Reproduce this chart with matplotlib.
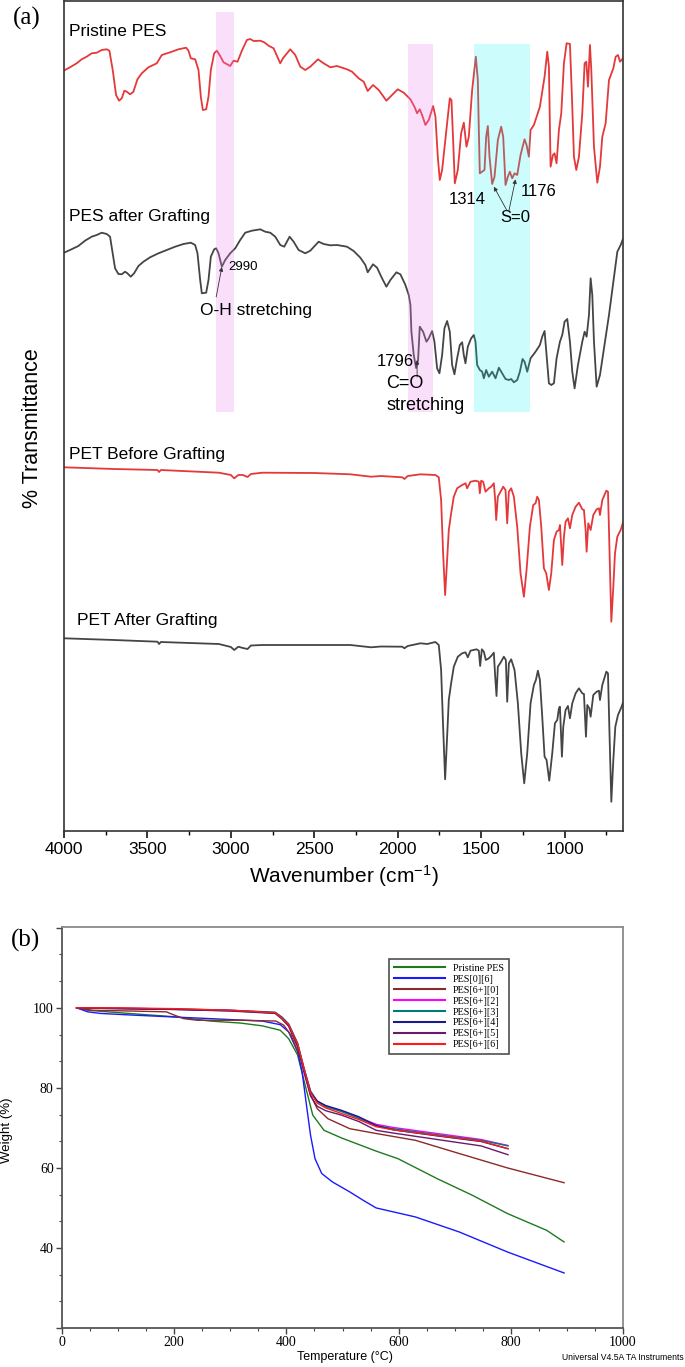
"""FTIR spectra (a) and TGA curves (b) for PES / PET grafting."""
import matplotlib
matplotlib.use("Agg")
import matplotlib.pyplot as plt
from matplotlib.ticker import MultipleLocator, AutoMinorLocator

plt.rcParams["font.family"] = ["Liberation Sans", "DejaVu Sans"]
plt.rcParams["mathtext.fontset"] = "custom"
plt.rcParams["mathtext.rm"] = "Liberation Sans"
plt.rcParams["mathtext.it"] = "Liberation Sans:italic"

W_PX, H_PX = 685, 1367

# ---------------- (a) FTIR: wavenumber (cm-1) vs trace offset (downward positive)
PES_PRISTINE_WN = [3994, 3964, 3924, 3894, 3864, 3834, 3804, 3774, 3744, 3728, 3708, 3688, 3670, 3654,
                   3638, 3624, 3604, 3584, 3560, 3534, 3494, 3444, 3414, 3364, 3314, 3268, 3254, 3240,
                   3214, 3194, 3180, 3168, 3148, 3134, 3120, 3100, 3084, 3064, 3044, 3004, 2984, 2960,
                   2934, 2904, 2884, 2864, 2824, 2800, 2774, 2744, 2704, 2688, 2644, 2614, 2584, 2554,
                   2524, 2478, 2444, 2404, 2364, 2304, 2274, 2234, 2204, 2180, 2148, 2114, 2068, 2034,
                   2000, 1964, 1924, 1900, 1884, 1868, 1854, 1834, 1814, 1788, 1774, 1760, 1748, 1734,
                   1708, 1688, 1678, 1668, 1658, 1640, 1620, 1604, 1588, 1574, 1554, 1532, 1520, 1514,
                   1508, 1494, 1480, 1470, 1460, 1450, 1434, 1420, 1400, 1380, 1368, 1354, 1340, 1328,
                   1314, 1300, 1284, 1264, 1240, 1228, 1214, 1204, 1184, 1148, 1120, 1104, 1094, 1084,
                   1070, 1060, 1048, 1034, 1020, 1004, 988, 968, 956, 944, 930, 914, 894, 880,
                   870, 860, 848, 840, 824, 804, 788, 774, 754, 734, 708, 694, 680, 668, 650]
PES_PRISTINE_T = [70.0, 67.3, 63.3, 59.3, 56.7, 53.3, 52.7, 50.0, 49.3, 50.7, 70.0, 95.0, 100.7, 98.3,
                  90.7, 91.7, 94.3, 91.7, 79.3, 73.3, 67.3, 63.3, 55.0, 52.3, 49.3, 47.7, 50.7, 58.3,
                  59.3, 70.0, 96.7, 110.0, 109.3, 96.7, 70.0, 53.3, 50.7, 56.0, 62.3, 66.0, 60.7, 61.7,
                  50.7, 40.0, 39.0, 41.0, 40.7, 42.3, 45.7, 48.3, 63.3, 58.3, 49.3, 55.0, 66.7, 70.0,
                  66.7, 59.3, 63.3, 67.3, 66.0, 69.3, 71.7, 78.3, 81.7, 91.0, 85.0, 90.0, 100.7, 95.0,
                  89.3, 92.7, 99.3, 106.7, 113.3, 109.3, 115.0, 125.0, 120.0, 106.0, 116.7, 156.7, 180.0, 170.0,
                  130.0, 98.3, 100.0, 140.0, 183.3, 170.0, 133.3, 122.7, 146.7, 136.7, 90.0, 56.7, 80.0, 130.0,
                  173.3, 171.7, 170.0, 136.7, 126.0, 156.7, 184.0, 176.7, 140.0, 126.7, 136.7, 185.0, 176.7, 171.7,
                  178.3, 173.3, 175.0, 155.0, 139.3, 145.0, 156.7, 130.0, 125.0, 106.7, 76.7, 51.7, 66.7, 166.7,
                  155.0, 153.3, 163.3, 130.0, 113.3, 63.3, 43.3, 44.0, 96.7, 156.7, 170.0, 156.7, 113.3, 63.3,
                  61.7, 86.7, 45.0, 70.0, 146.7, 182.7, 166.7, 136.7, 123.3, 80.0, 68.3, 56.7, 55.0, 61.7, 58.3]

PES_GRAFT_WN = [4000, 3964, 3914, 3874, 3834, 3804, 3774, 3744, 3724, 3708, 3694, 3674, 3654, 3634,
                3620, 3600, 3580, 3554, 3524, 3484, 3434, 3384, 3334, 3284, 3240, 3214, 3200, 3184,
                3174, 3148, 3134, 3120, 3100, 3088, 3074, 3054, 3034, 3004, 2974, 2944, 2914, 2874,
                2824, 2794, 2764, 2734, 2704, 2680, 2648, 2624, 2594, 2554, 2524, 2474, 2444, 2404,
                2364, 2304, 2264, 2224, 2194, 2180, 2148, 2124, 2094, 2068, 2044, 2008, 1984, 1954,
                1934, 1924, 1918, 1904, 1890, 1878, 1868, 1848, 1828, 1814, 1794, 1780, 1764, 1750,
                1734, 1720, 1704, 1688, 1674, 1660, 1644, 1628, 1614, 1604, 1594, 1580, 1560, 1544,
                1534, 1524, 1508, 1494, 1484, 1470, 1454, 1434, 1414, 1394, 1374, 1354, 1334, 1320,
                1304, 1284, 1268, 1252, 1240, 1224, 1204, 1174, 1148, 1134, 1120, 1108, 1094, 1080,
                1064, 1048, 1028, 1014, 1000, 984, 968, 954, 940, 920, 894, 880, 868, 854,
                844, 834, 824, 808, 788, 764, 734, 708, 684, 664, 650]
PES_GRAFT_T = [252.7, 250.0, 246.0, 240.7, 236.7, 235.0, 232.7, 234.0, 236.7, 253.3, 268.3, 274.0, 274.3, 271.7,
               273.3, 276.7, 273.3, 266.0, 261.7, 257.3, 253.3, 250.0, 246.7, 244.0, 242.7, 245.0, 253.3, 280.0,
               293.3, 292.7, 280.0, 256.7, 249.3, 248.3, 253.3, 266.7, 260.0, 253.3, 248.3, 240.0, 232.7, 230.7,
               229.3, 231.7, 232.7, 236.7, 245.0, 246.7, 236.7, 241.7, 250.0, 253.3, 250.7, 241.7, 244.0, 245.3,
               245.0, 246.7, 251.0, 257.7, 265.0, 272.3, 264.3, 267.7, 278.3, 286.7, 280.0, 272.3, 274.3, 285.0,
               295.0, 305.0, 331.7, 355.0, 368.0, 360.0, 326.7, 331.7, 341.7, 338.3, 331.0, 341.7, 368.3, 373.3,
               355.0, 328.3, 321.0, 331.7, 365.0, 374.3, 358.3, 345.0, 342.3, 355.0, 363.3, 346.7, 338.3, 335.0,
               341.7, 365.0, 370.0, 371.7, 378.3, 370.0, 376.7, 371.7, 378.3, 367.7, 373.3, 379.0, 380.0, 379.0,
               382.3, 380.0, 371.7, 359.0, 361.7, 371.7, 358.3, 351.7, 345.0, 336.7, 331.0, 355.0, 383.3, 385.0,
               383.3, 358.3, 341.7, 335.0, 321.7, 319.0, 341.7, 371.7, 388.3, 365.0, 341.7, 331.7, 336.7, 315.0,
               278.3, 295.0, 341.7, 386.7, 375.0, 348.3, 315.0, 281.7, 251.7, 245.0, 239.0]

PET_BEFORE_WN = [4000, 3700, 3440, 3430, 3420, 3072, 3000, 2980, 2955, 2928, 2900, 2880, 2810, 2500,
                 2284, 2160, 2100, 1972, 1960, 1940, 1864, 1774, 1754, 1740, 1728, 1716, 1704, 1694,
                 1680, 1664, 1644, 1614, 1594, 1584, 1564, 1534, 1514, 1508, 1500, 1488, 1474, 1454,
                 1440, 1424, 1416, 1410, 1400, 1384, 1368, 1354, 1344, 1334, 1320, 1304, 1284, 1264,
                 1244, 1228, 1208, 1188, 1174, 1164, 1154, 1140, 1124, 1110, 1094, 1080, 1064, 1048,
                 1034, 1028, 1020, 1014, 1004, 994, 980, 968, 954, 934, 914, 894, 884, 874,
                 868, 858, 844, 828, 808, 794, 788, 774, 750, 740, 732, 720, 708, 698, 684, 664, 650]
PET_BEFORE_T = [467.3, 469.0, 470.0, 472.0, 470.0, 472.7, 475.0, 478.3, 475.0, 475.0, 477.0, 474.0, 472.7, 473.0,
                474.3, 476.7, 476.0, 477.3, 479.0, 476.0, 474.3, 475.0, 477.3, 500.0, 553.3, 595.0, 560.0, 530.0,
                513.3, 496.7, 488.3, 485.0, 483.3, 488.3, 481.7, 480.7, 481.7, 493.3, 480.7, 481.7, 491.7, 488.3,
                486.7, 483.3, 500.0, 520.0, 496.7, 491.7, 486.7, 490.0, 523.3, 491.7, 488.3, 496.7, 526.7, 573.3,
                596.7, 570.0, 526.7, 505.0, 503.3, 496.7, 500.0, 526.7, 568.3, 573.3, 590.0, 573.3, 540.0, 531.7,
                530.0, 525.0, 546.7, 565.0, 536.7, 521.7, 518.3, 528.3, 515.0, 506.7, 502.7, 509.3, 510.0, 530.0,
                551.7, 523.3, 530.0, 515.0, 509.3, 508.3, 515.0, 500.0, 490.7, 491.7, 543.3, 621.7, 586.7, 553.3,
                536.7, 530.0, 522.7]

PET_AFTER_WN = [4000, 3700, 3440, 3430, 3420, 3072, 3000, 2980, 2955, 2928, 2900, 2880, 2810, 2500,
                2284, 2160, 2100, 1972, 1960, 1940, 1864, 1824, 1774, 1754, 1740, 1728, 1716, 1704,
                1694, 1680, 1664, 1640, 1614, 1594, 1580, 1564, 1528, 1514, 1506, 1496, 1484, 1472,
                1454, 1440, 1424, 1416, 1408, 1400, 1384, 1364, 1352, 1344, 1334, 1320, 1300, 1280,
                1260, 1242, 1224, 1204, 1184, 1172, 1160, 1148, 1134, 1120, 1108, 1092, 1074, 1058,
                1044, 1034, 1028, 1016, 1008, 994, 980, 968, 954, 934, 914, 894, 884, 872,
                864, 852, 844, 828, 808, 794, 788, 774, 750, 740, 732, 720, 708, 696, 680, 660, 650]
PET_AFTER_T = [638.3, 640.0, 641.7, 644.0, 642.0, 644.0, 647.0, 650.0, 646.7, 648.0, 649.0, 645.5, 645.0, 645.0,
               645.0, 647.3, 646.5, 646.7, 648.3, 646.0, 643.3, 644.0, 642.0, 645.0, 670.0, 726.7, 779.3, 736.7,
               700.0, 683.3, 666.7, 656.7, 653.3, 652.3, 657.3, 650.7, 649.3, 650.7, 666.0, 649.3, 651.7, 660.0,
               658.3, 656.0, 652.7, 676.7, 696.0, 666.7, 662.7, 656.7, 660.0, 701.7, 663.3, 659.3, 670.0, 703.3,
               753.3, 783.3, 753.3, 703.3, 685.0, 680.0, 670.7, 680.0, 716.7, 756.7, 760.0, 780.7, 753.3, 723.3,
               720.0, 708.3, 706.7, 756.7, 726.7, 710.0, 706.0, 718.3, 703.3, 693.3, 688.3, 693.3, 694.0, 736.7,
               705.0, 708.3, 716.7, 695.0, 691.7, 690.7, 700.0, 685.0, 671.7, 673.3, 726.7, 801.7, 760.0, 726.7,
               715.0, 707.3, 702.7]

BAND_WN = [(3088, 2980), (1936, 1790), (1540, 1208)]
BAND_TOP = [12, 44, 44]
BAND_BOTTOM = 412
BAND_COLORS = ["violet", "violet", "#00f0f0"]
BAND_ALPHA = [0.25, 0.25, 0.2]

# ---------------- (b) TGA: temperature (°C) vs weight (%)
TGA_LABELS = ["Pristine PES", "PES[0][6]", "PES[6+][0]", "PES[6+][2]", "PES[6+][3]",
              "PES[6+][4]", "PES[6+][5]", "PES[6+][6]"]
TGA_COLORS = ["#1f7a1f", "#1a1aff", "#8b2a2a", "#ff00ff", "#007a7a", "#1a1a8c", "#6a1a6a", "#ff1a1a"]

T_PRISTINE = [26, 46, 100, 202, 264, 318, 357, 389, 404, 420, 435, 447, 467, 498, 560, 599, 669, 731, 794, 864, 895]
W_PRISTINE = [100, 99.4, 98.8, 97.75, 96.7, 96.2, 95.5, 94.4, 92.3, 88.2, 79.8, 73.2, 69.4, 67.5, 64.2, 62.3,
              57.3, 53.2, 48.6, 44.4, 41.5]
T_PES06 = [26, 46, 69, 124, 202, 280, 357, 389, 404, 420, 428, 435, 443, 451, 463, 482, 513, 537, 560, 630,
           708, 794, 895]
W_PES06 = [100, 99, 98.6, 98.2, 97.7, 97.2, 96.7, 95.8, 94, 89, 84, 76.5, 68.2, 62.3, 58.6, 56.5, 54, 51.9,
           50, 47.75, 44, 39, 33.75]
T_PES60 = [26, 54, 124, 186, 198, 217, 241, 318, 381, 395, 408, 428, 443, 455, 474, 513, 560, 630, 708, 794, 895]
W_PES60 = [100, 99.4, 99.2, 99, 98.3, 97.3, 96.9, 96.9, 96.7, 95.7, 93.2, 86.5, 78.2, 74.8, 72.3, 69.8, 68.6,
           66.9, 63.6, 60, 56.3]
T_GRAFTED = [26, 100, 200, 300, 380, 392, 404, 420, 431, 443, 455, 470, 498, 529, 560, 591, 669, 747, 795]
W_PES62 = [100, 99.9, 99.7, 99.4, 98.8, 97.6, 95.9, 91.0, 85.0, 79.2, 76.7, 75.4, 74.2, 72.6, 70.9, 70.1,
           68.6, 67.1, 65.6]
W_PES63 = [100, 99.9, 99.7, 99.4, 98.9, 97.7, 96.0, 91.2, 85.2, 79.2, 76.6, 75.3, 74.1, 72.4, 70.6, 69.8,
           68.3, 66.9, 65.5]
W_PES64 = [100, 99.8, 99.6, 99.3, 98.7, 97.4, 95.6, 90.5, 84.6, 78.8, 76.7, 75.6, 74.4, 72.8, 70.6, 69.5,
           68.0, 66.6, 64.8]
W_PES65 = [100, 99.8, 99.6, 99.2, 98.6, 97.2, 95.4, 90.2, 84.0, 78.0, 75.4, 74.3, 73.2, 71.6, 69.4, 68.7,
           67.1, 65.5, 63.3]
W_PES66 = [100, 100, 99.8, 99.4, 98.8, 97.4, 95.8, 91.0, 85.0, 78.8, 76.2, 75.0, 73.6, 72.1, 70.3, 69.5,
           68.1, 66.7, 64.8]


def box(left, top, right, bottom):
    """pixel box -> figure fraction rect"""
    return [left / W_PX, 1 - bottom / H_PX, (right - left) / W_PX, (bottom - top) / H_PX]


fig = plt.figure(figsize=(W_PX / 100, H_PX / 100), dpi=100)

# ======================= (a) =======================
ax = fig.add_axes(box(64, 1, 623, 831))
red, grey = "#e5383b", "#454545"
ax.plot(PES_PRISTINE_WN, PES_PRISTINE_T, color=red, lw=1.3, zorder=2)
ax.plot(PES_GRAFT_WN, PES_GRAFT_T, color=grey, lw=1.3, zorder=2)
ax.plot(PET_BEFORE_WN, PET_BEFORE_T, color=red, lw=1.3, zorder=2)
ax.plot(PET_AFTER_WN, PET_AFTER_T, color=grey, lw=1.3, zorder=2)
for (w0, w1), top, c, a in zip(BAND_WN, BAND_TOP, BAND_COLORS, BAND_ALPHA):
    ax.fill_betweenx([top, BAND_BOTTOM], w0, w1, color=c, alpha=a, lw=0, zorder=3)

ax.set_xlim(4000, 650)
ax.set_ylim(831, 1)
ax.set_yticks([])
ax.xaxis.set_major_locator(MultipleLocator(500))
ax.xaxis.set_minor_locator(MultipleLocator(250))
ax.tick_params(axis="x", which="major", direction="out", length=5, width=1.1, labelsize=12.5, pad=3)
ax.tick_params(axis="x", which="minor", direction="out", length=3, width=1.0)
for s in ax.spines.values():
    s.set_linewidth(1.2)
    s.set_color("#333333")
ax.set_xlabel(r"Wavenumber (cm$^{-1}$)", fontsize=15, labelpad=4)
fig.text(33 / W_PX, 1 - 428 / H_PX, "% Transmittance", rotation=90, fontsize=15.5,
         ha="center", va="center")
fig.text(27 / W_PX, 1 - 18 / H_PX, "(a)", family="Liberation Serif", fontsize=18,
         ha="center", va="center")

lab = dict(fontsize=12.5, ha="left", va="center", zorder=4)
ax.text(3970, 32, "Pristine PES", **lab)
ax.text(3970, 217, "PES after Grafting", **lab)
ax.text(3970, 455, "PET Before Grafting", **lab)
ax.text(3925, 620, "PET After Grafting", **lab)

ax.text(1585, 200, "1314", fontsize=12, ha="center", va="center", zorder=4)
ax.text(1153, 192, "1176", fontsize=12, ha="center", va="center", zorder=4)
ax.text(1297, 218, "S=0", fontsize=12, ha="center", va="center", zorder=4)
arr = dict(arrowstyle="-|>", lw=0.6, color="#333333", mutation_scale=6, shrinkA=0, shrinkB=0)
ax.annotate("", xy=(1424, 186.7), xytext=(1344, 211), arrowprops=arr, zorder=4)
ax.annotate("", xy=(1294, 179.3), xytext=(1334, 211), arrowprops=arr, zorder=4)

ax.text(3016, 267, "2990", fontsize=9.5, ha="left", va="center", zorder=4)
ax.annotate("", xy=(3054, 267), xytext=(3088, 297), arrowprops=arr, zorder=4)
ax.text(2848, 311, "O-H stretching", fontsize=12.5, ha="center", va="center", zorder=4)

ax.text(1906, 362, "1796", fontsize=12, ha="right", va="center", zorder=4)
ax.annotate("", xy=(1884, 360), xytext=(1884, 377), arrowprops=arr, zorder=4)
ax.text(2068, 384, "C=O", fontsize=13, ha="left", va="center", zorder=4)
ax.text(2068, 405, "stretching", fontsize=13, ha="left", va="center", zorder=4)

# ======================= (b) =======================
bx = fig.add_axes(box(62, 927, 623, 1328))
tga_T = [T_PRISTINE, T_PES06, T_PES60, T_GRAFTED, T_GRAFTED, T_GRAFTED, T_GRAFTED, T_GRAFTED]
tga_W = [W_PRISTINE, W_PES06, W_PES60, W_PES62, W_PES63, W_PES64, W_PES65, W_PES66]
for t, w, c, l in zip(tga_T, tga_W, TGA_COLORS, TGA_LABELS):
    bx.plot(t, w, color=c, lw=1.0, label=l)

bx.set_xlim(0, 1000)
bx.set_ylim(20, 120.2)
bx.set_xticks([0, 200, 400, 600, 800, 1000])
bx.set_yticks([20, 40, 60, 80, 100, 120])
bx.set_yticklabels(["", "40", "60", "80", "100", ""])
bx.xaxis.set_minor_locator(AutoMinorLocator(4))
bx.yaxis.set_minor_locator(AutoMinorLocator(3))
bx.tick_params(which="major", direction="out", length=4, width=1.0, labelsize=10, pad=2,
               color="#444444")
bx.tick_params(which="minor", direction="out", length=2.5, width=0.8, color="#444444")
for t in bx.get_xticklabels() + bx.get_yticklabels():
    t.set_family("Liberation Serif")
for side, s in bx.spines.items():
    s.set_linewidth(1.3)
    s.set_color("#555555" if side in ("left", "bottom") else "#8a8a8a")
fig.text(345 / W_PX, 1 - 1357 / H_PX, "Temperature (°C)", fontsize=9, ha="center", va="center")
fig.text(7 / W_PX, 1 - 1130 / H_PX, "Weight (%)", rotation=90, fontsize=9.5, ha="center", va="center")
fig.text(684 / W_PX, 1 - 1357 / H_PX, "Universal V4.5A TA Instruments", fontsize=6.2,
         ha="right", va="center")
fig.text(26 / W_PX, 1 - 940 / H_PX, "(b)", family="Liberation Serif", fontsize=18,
         ha="center", va="center")

leg = bx.legend(loc="upper left", bbox_to_anchor=(0.583, 0.921), prop={"family": "Liberation Serif", "size": 7.3},
                handlelength=5.0, handletextpad=0.8, labelspacing=0.18, borderpad=0.5,
                frameon=True, fancybox=False, borderaxespad=0)
leg.get_frame().set_edgecolor("#222222")
leg.get_frame().set_linewidth(1.2)
for h in leg.get_lines():
    h.set_linewidth(1.5)

fig.savefig("out.png", dpi=100)
